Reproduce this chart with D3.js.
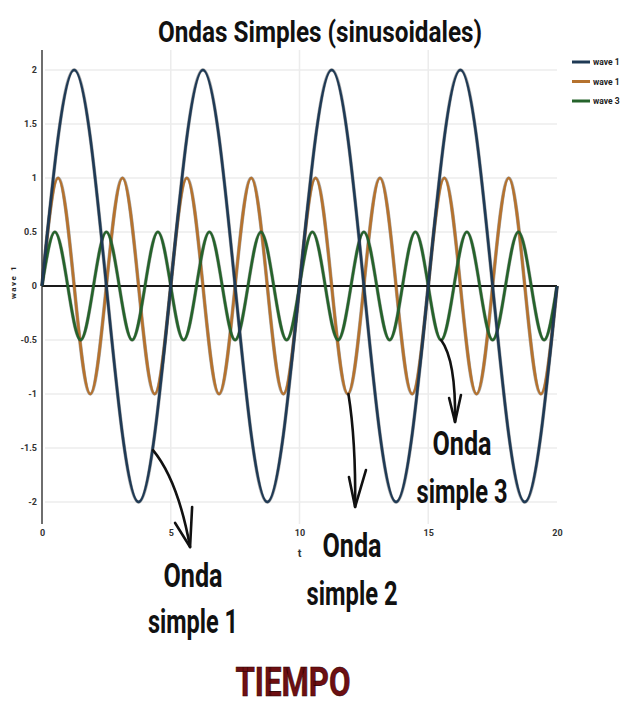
<!DOCTYPE html>
<html>
<head>
<meta charset="utf-8">
<script src="https://cdn.jsdelivr.net/npm/d3@7"></script>
<style>
  html, body { margin: 0; padding: 0; background: #fff; }
  svg { display: block; }
</style>
</head>
<body>
<svg id="chart" width="625" height="706"></svg>
<script>
// ---------- DATA ----------
const seriesNames = ["wave 1", "wave 1", "wave 3"];
const wave1T = [0,1.25,2.5,3.75,5,6.25,7.5,8.75,10,11.25,12.5,13.75,15,16.25,17.5,18.75,20];
const wave1Y = [0,2,0,-2,0,2,0,-2,0,2,0,-2,0,2,0,-2,0];
const wave2T = [0,0.625,1.25,1.875,2.5,3.125,3.75,4.375,5,5.625,6.25,6.875,7.5,8.125,8.75,9.375,10,
                10.625,11.25,11.875,12.5,13.125,13.75,14.375,15,15.625,16.25,16.875,17.5,18.125,18.75,19.375,20];
const wave2Y = [0,1,0,-1,0,1,0,-1,0,1,0,-1,0,1,0,-1,0,1,0,-1,0,1,0,-1,0,1,0,-1,0,1,0,-1,0];
const wave3T = [0,0.5,1,1.5,2,2.5,3,3.5,4,4.5,5,5.5,6,6.5,7,7.5,8,8.5,9,9.5,10,
                10.5,11,11.5,12,12.5,13,13.5,14,14.5,15,15.5,16,16.5,17,17.5,18,18.5,19,19.5,20];
const wave3Y = [0,0.5,0,-0.5,0,0.5,0,-0.5,0,0.5,0,-0.5,0,0.5,0,-0.5,0,0.5,0,-0.5,0,
                0.5,0,-0.5,0,0.5,0,-0.5,0,0.5,0,-0.5,0,0.5,0,-0.5,0,0.5,0,-0.5,0];
const xTicks = [0,5,10,15,20];
const yTicks = [-2,-1.5,-1,-0.5,0,0.5,1,1.5,2];
const xGridTicks = [5,10,15];
const titleText = "Ondas Simples (sinusoidales)";
const xAxisLabel = "t";
const yAxisLabel = "wave 1";
const bottomLabel = "TIEMPO";
// annotation arrows in data units: start, control, end, head-left, head-right
const arrows = [
  { s:[4.31,-1.52], c:[5.28,-1.80], e:[5.75,-2.417], hl:[5.17,-2.194], hr:[5.83,-2.046] },
  { s:[11.9,-1.0],  c:[12.19,-1.43], e:[12.16,-2.046], hl:[11.92,-1.769], hr:[12.58,-1.704] },
  { s:[15.5,-0.5],  c:[16.08,-0.69], e:[16.04,-1.259], hl:[15.81,-1.037], hr:[16.27,-1.009] }
];
const annotations = [
  { lines:["Onda","simple 1"], x:193, y:[587,633], w:[59,90] },
  { lines:["Onda","simple 2"], x:352, y:[557,605], w:[59,91] },
  { lines:["Onda","simple 3"], x:462, y:[455,503], w:[59,91] }
];

// ---------- LAYOUT ----------
const colors = ["#1f3a55", "#b5722e", "#25632b"];
const svg = d3.select("#chart");
const x = d3.scaleLinear().domain([0,20]).range([42,557]);
const y = d3.scaleLinear().domain([-2,2]).range([502,70]);
const plotTop = 50, plotBottom = 524;

// gridlines
svg.append("g").selectAll("line").data(yTicks).join("line")
  .attr("x1", x(0)+3).attr("x2", x(20))
  .attr("y1", d=>y(d)).attr("y2", d=>y(d))
  .attr("stroke", "#ececec").attr("stroke-width", 1.5);
svg.append("g").selectAll("line").data(xGridTicks).join("line")
  .attr("x1", d=>x(d)).attr("x2", d=>x(d))
  .attr("y1", plotTop).attr("y2", plotBottom)
  .attr("stroke", "#ececec").attr("stroke-width", 1.5);

// y axis line
svg.append("line").attr("x1", x(0)).attr("x2", x(0))
  .attr("y1", plotTop).attr("y2", plotBottom)
  .attr("stroke", "#6e6e6e").attr("stroke-width", 2);

// axes (labels only)
const fmt = d => String(d);
const yAxis = svg.append("g").attr("transform", `translate(${x(0)},0)`)
  .call(d3.axisLeft(y).tickValues(yTicks).tickSize(0).tickPadding(5).tickFormat(fmt));
const xAxis = svg.append("g").attr("transform", `translate(0,${plotBottom})`)
  .call(d3.axisBottom(x).tickValues(xTicks).tickSize(0).tickPadding(6).tickFormat(fmt));
[yAxis, xAxis].forEach(g => {
  g.select(".domain").remove();
  g.selectAll("text").attr("font-family", "Roboto, 'DejaVu Sans', sans-serif")
    .attr("font-size", 9).attr("font-weight", "bold").attr("fill", "#333");
});

// zero line
svg.append("line").attr("x1", x(0)).attr("x2", x(20))
  .attr("y1", y(0)).attr("y2", y(0))
  .attr("stroke", "#1a1a1a").attr("stroke-width", 2);

// waves
const waves = [
  wave1T.map((t,i)=>[t, wave1Y[i]]),
  wave2T.map((t,i)=>[t, wave2Y[i]]),
  wave3T.map((t,i)=>[t, wave3Y[i]])
];
const line = d3.line().x(d=>x(d[0])).y(d=>y(d[1])).curve(d3.curveNatural);
[1,2,0].forEach(i => {
  svg.append("path").attr("d", line(waves[i]))
    .attr("fill", "none").attr("stroke", "#111").attr("stroke-opacity", 0.35)
    .attr("stroke-width", 3.6);
  svg.append("path").attr("d", line(waves[i]))
    .attr("fill", "none").attr("stroke", colors[i]).attr("stroke-width", 2.6);
});

// legend
const leg = svg.append("g");
seriesNames.forEach((n,i) => {
  const ly = 62 + i*19.5;
  leg.append("line").attr("x1", 572).attr("x2", 590).attr("y1", ly).attr("y2", ly)
    .attr("stroke", colors[i]).attr("stroke-width", 3);
  leg.append("text").attr("x", 593).attr("y", ly+3).text(n)
    .attr("font-family", "Roboto, sans-serif").attr("font-size", 8.5)
    .attr("font-weight", "bold").attr("fill", "#222");
});

// title
svg.append("text").attr("x", 320).attr("y", 42).attr("text-anchor", "middle")
  .attr("font-family", "'Liberation Sans Narrow', Roboto, sans-serif")
  .attr("font-weight", "bold").attr("font-size", 30)
  .attr("textLength", 324).attr("lengthAdjust", "spacingAndGlyphs")
  .attr("fill", "#111").text(titleText);

// x axis label "t"
svg.append("text").attr("x", x(10)).attr("y", 557).attr("text-anchor", "middle")
  .attr("font-family", "Roboto, sans-serif").attr("font-size", 11)
  .attr("font-weight", "bold").attr("fill", "#333").text(xAxisLabel);

// y axis label
svg.append("text").attr("transform", "translate(16,282) rotate(-90)")
  .attr("text-anchor", "middle")
  .attr("font-family", "Roboto, sans-serif").attr("font-size", 8)
  .attr("font-weight", "bold").attr("letter-spacing", 1.5)
  .attr("fill", "#222").text(yAxisLabel);

// arrows
const P = p => [x(p[0]), y(p[1])];
arrows.forEach(a => {
  const s=P(a.s), c=P(a.c), e=P(a.e), hl=P(a.hl), hr=P(a.hr);
  svg.append("path").attr("d", `M${s}Q${c} ${e}`)
    .attr("fill","none").attr("stroke","#111").attr("stroke-width",2.6)
    .attr("stroke-linecap","round");
  svg.append("path").attr("d", `M${hl}L${e}L${hr}`)
    .attr("fill","none").attr("stroke","#111").attr("stroke-width",2.6)
    .attr("stroke-linecap","round").attr("stroke-linejoin","round");
});

// annotation text
annotations.forEach(a => {
  a.lines.forEach((t,i) => {
    svg.append("text").attr("x", a.x).attr("y", a.y[i]).attr("text-anchor","middle")
      .attr("font-family", "'Liberation Sans Narrow', Roboto, sans-serif")
      .attr("font-weight","bold").attr("font-size", 33)
      .attr("textLength", a.w[i]).attr("lengthAdjust","spacingAndGlyphs")
      .attr("fill","#111").text(t);
  });
});

// bottom label
svg.append("text").attr("x", 293).attr("y", 696).attr("text-anchor","middle")
  .attr("font-family", "'Liberation Sans Narrow', Roboto, sans-serif")
  .attr("font-weight","bold").attr("font-size", 41)
  .attr("textLength", 115).attr("lengthAdjust","spacingAndGlyphs")
  .attr("fill","#6e0f12").attr("stroke","#2a0000").attr("stroke-width",0.6)
  .text(bottomLabel);
</script>
</body>
</html>
